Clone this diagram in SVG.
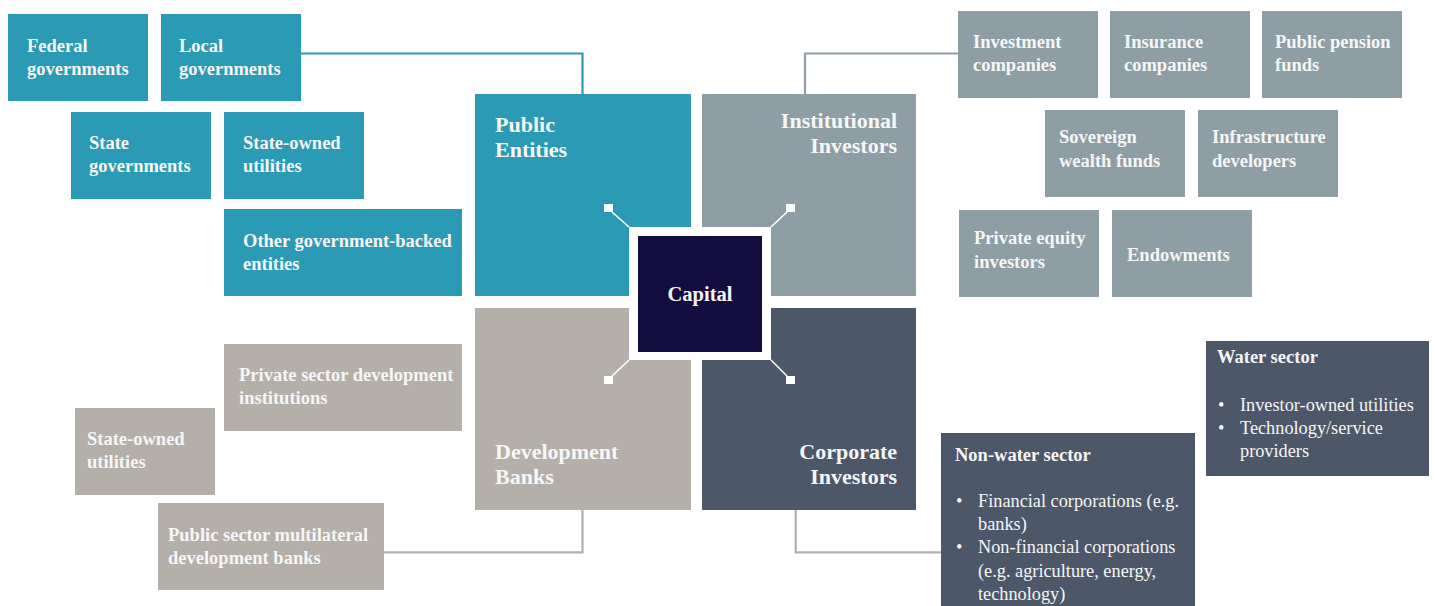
<svg xmlns="http://www.w3.org/2000/svg" width="1435" height="606" viewBox="0 0 1435 606">
  <style>
    text { font-family: "Liberation Serif", "Times New Roman", serif; fill: #f6f6f6; }
    .lbl { font-size: 18.5px; font-weight: bold; }
    .ttl { font-size: 22px; font-weight: bold; }
    .cap { font-size: 20.5px; font-weight: bold; }
    .reg { font-size: 18.3px; }
    .teal { fill: #2b9ab4; }
    .inst { fill: #8e9ea5; }
    .dev { fill: #b4afa9; }
    .corp { fill: #4c5769; }
    .link { fill: none; stroke-width: 2.2; }
    .spoke { stroke: #ffffff; stroke-width: 1.6; }
  </style>

  <!-- connectors -->
  <g id="connectors">
    <polyline class="link" stroke="#2b9ab4" points="301,53.5 582.5,53.5 582.5,94"/>
    <polyline class="link" stroke="#8e9ea5" points="958,53.5 805,53.5 805,94"/>
    <polyline class="link" stroke="#b4afa9" points="384,552.3 582.5,552.3 582.5,510"/>
    <polyline class="link" stroke="#b4afa9" points="941,552.3 795.7,552.3 795.7,510"/>
  </g>

  <!-- quadrants -->
  <g id="public-entities">
    <rect class="teal" x="475" y="94" width="216" height="202"/>
    <text class="ttl" x="495" y="132">Public</text>
    <text class="ttl" x="495" y="157">Entities</text>
  </g>
  <g id="institutional-investors">
    <rect class="inst" x="702" y="94" width="214" height="202"/>
    <text class="ttl" x="897" y="128" text-anchor="end">Institutional</text>
    <text class="ttl" x="897" y="153" text-anchor="end">Investors</text>
  </g>
  <g id="development-banks">
    <rect class="dev" x="475" y="308" width="216" height="202"/>
    <text class="ttl" x="495" y="459">Development</text>
    <text class="ttl" x="495" y="484">Banks</text>
  </g>
  <g id="corporate-investors">
    <rect class="corp" x="702" y="308" width="214" height="202"/>
    <text class="ttl" x="897" y="459" text-anchor="end">Corporate</text>
    <text class="ttl" x="897" y="484" text-anchor="end">Investors</text>
  </g>

  <!-- centre -->
  <g id="capital">
    <rect x="629" y="227" width="142" height="133" fill="#ffffff"/>
    <rect x="638" y="236" width="124" height="116" fill="#130e3f"/>
    <text class="cap" x="700" y="301" text-anchor="middle">Capital</text>
    <line class="spoke" x1="612" y1="212" x2="629" y2="227"/>
    <line class="spoke" x1="787" y1="212" x2="771" y2="227"/>
    <line class="spoke" x1="612" y1="376" x2="629" y2="360"/>
    <line class="spoke" x1="787" y1="376" x2="771" y2="360"/>
    <rect x="604" y="204" width="9" height="8" fill="#ffffff"/>
    <rect x="786" y="204" width="9" height="8" fill="#ffffff"/>
    <rect x="604" y="376" width="9" height="8" fill="#ffffff"/>
    <rect x="786" y="376" width="9" height="8" fill="#ffffff"/>
  </g>

  <!-- public entities -->
  <g id="federal-governments">
    <rect class="teal" x="8" y="14" width="140" height="87"/>
    <text class="lbl" x="27" y="52">Federal</text>
    <text class="lbl" x="27" y="75">governments</text>
  </g>
  <g id="local-governments">
    <rect class="teal" x="161" y="14" width="140" height="87"/>
    <text class="lbl" x="179" y="52">Local</text>
    <text class="lbl" x="179" y="75">governments</text>
  </g>
  <g id="state-governments">
    <rect class="teal" x="71" y="112" width="140" height="87"/>
    <text class="lbl" x="89" y="149">State</text>
    <text class="lbl" x="89" y="172">governments</text>
  </g>
  <g id="state-owned-utilities-public">
    <rect class="teal" x="224" y="112" width="140" height="87"/>
    <text class="lbl" x="243" y="149">State-owned</text>
    <text class="lbl" x="243" y="172">utilities</text>
  </g>
  <g id="other-government-backed">
    <rect class="teal" x="224" y="209" width="238" height="87"/>
    <text class="lbl" x="243" y="247">Other government-backed</text>
    <text class="lbl" x="243" y="270">entities</text>
  </g>

  <!-- institutional investors -->
  <g id="investment-companies">
    <rect class="inst" x="958" y="11" width="140" height="87"/>
    <text class="lbl" x="973" y="48">Investment</text>
    <text class="lbl" x="973" y="71">companies</text>
  </g>
  <g id="insurance-companies">
    <rect class="inst" x="1110" y="11" width="140" height="87"/>
    <text class="lbl" x="1124" y="48">Insurance</text>
    <text class="lbl" x="1124" y="71">companies</text>
  </g>
  <g id="public-pension-funds">
    <rect class="inst" x="1262" y="11" width="140" height="87"/>
    <text class="lbl" x="1275" y="48">Public pension</text>
    <text class="lbl" x="1275" y="71">funds</text>
  </g>
  <g id="sovereign-wealth-funds">
    <rect class="inst" x="1045" y="110" width="140" height="87"/>
    <text class="lbl" x="1059" y="143">Sovereign</text>
    <text class="lbl" x="1059" y="167">wealth funds</text>
  </g>
  <g id="infrastructure-developers">
    <rect class="inst" x="1198" y="110" width="140" height="87"/>
    <text class="lbl" x="1212" y="143">Infrastructure</text>
    <text class="lbl" x="1212" y="167">developers</text>
  </g>
  <g id="private-equity-investors">
    <rect class="inst" x="959" y="210" width="140" height="87"/>
    <text class="lbl" x="974" y="244">Private equity</text>
    <text class="lbl" x="974" y="268">investors</text>
  </g>
  <g id="endowments">
    <rect class="inst" x="1112" y="210" width="140" height="87"/>
    <text class="lbl" x="1127" y="261">Endowments</text>
  </g>

  <!-- development banks -->
  <g id="private-sector-development">
    <rect class="dev" x="224" y="344" width="238" height="87"/>
    <text class="lbl" x="239" y="381">Private sector development</text>
    <text class="lbl" x="239" y="404">institutions</text>
  </g>
  <g id="state-owned-utilities-dev">
    <rect class="dev" x="75" y="408" width="140" height="87"/>
    <text class="lbl" x="87" y="445">State-owned</text>
    <text class="lbl" x="87" y="468">utilities</text>
  </g>
  <g id="public-sector-mdb">
    <rect class="dev" x="158" y="503" width="226" height="87"/>
    <text class="lbl" x="168" y="541">Public sector multilateral</text>
    <text class="lbl" x="168" y="564">development banks</text>
  </g>

  <!-- corporate investors -->
  <g id="non-water-sector">
    <rect class="corp" x="941" y="433" width="254" height="173"/>
    <text class="lbl" x="955" y="461">Non-water sector</text>
    <text class="reg" x="956" y="507">•</text>
    <text class="reg" x="978" y="507">Financial corporations (e.g.</text>
    <text class="reg" x="978" y="530">banks)</text>
    <text class="reg" x="956" y="553">•</text>
    <text class="reg" x="978" y="553">Non-financial corporations</text>
    <text class="reg" x="978" y="577">(e.g. agriculture, energy,</text>
    <text class="reg" x="978" y="600">technology)</text>
  </g>
  <g id="water-sector">
    <rect class="corp" x="1206" y="341" width="223" height="135"/>
    <text class="lbl" x="1217" y="363">Water sector</text>
    <text class="reg" x="1218" y="411">•</text>
    <text class="reg" x="1240" y="411">Investor-owned utilities</text>
    <text class="reg" x="1218" y="434">•</text>
    <text class="reg" x="1240" y="434">Technology/service</text>
    <text class="reg" x="1240" y="457">providers</text>
  </g>
</svg>
